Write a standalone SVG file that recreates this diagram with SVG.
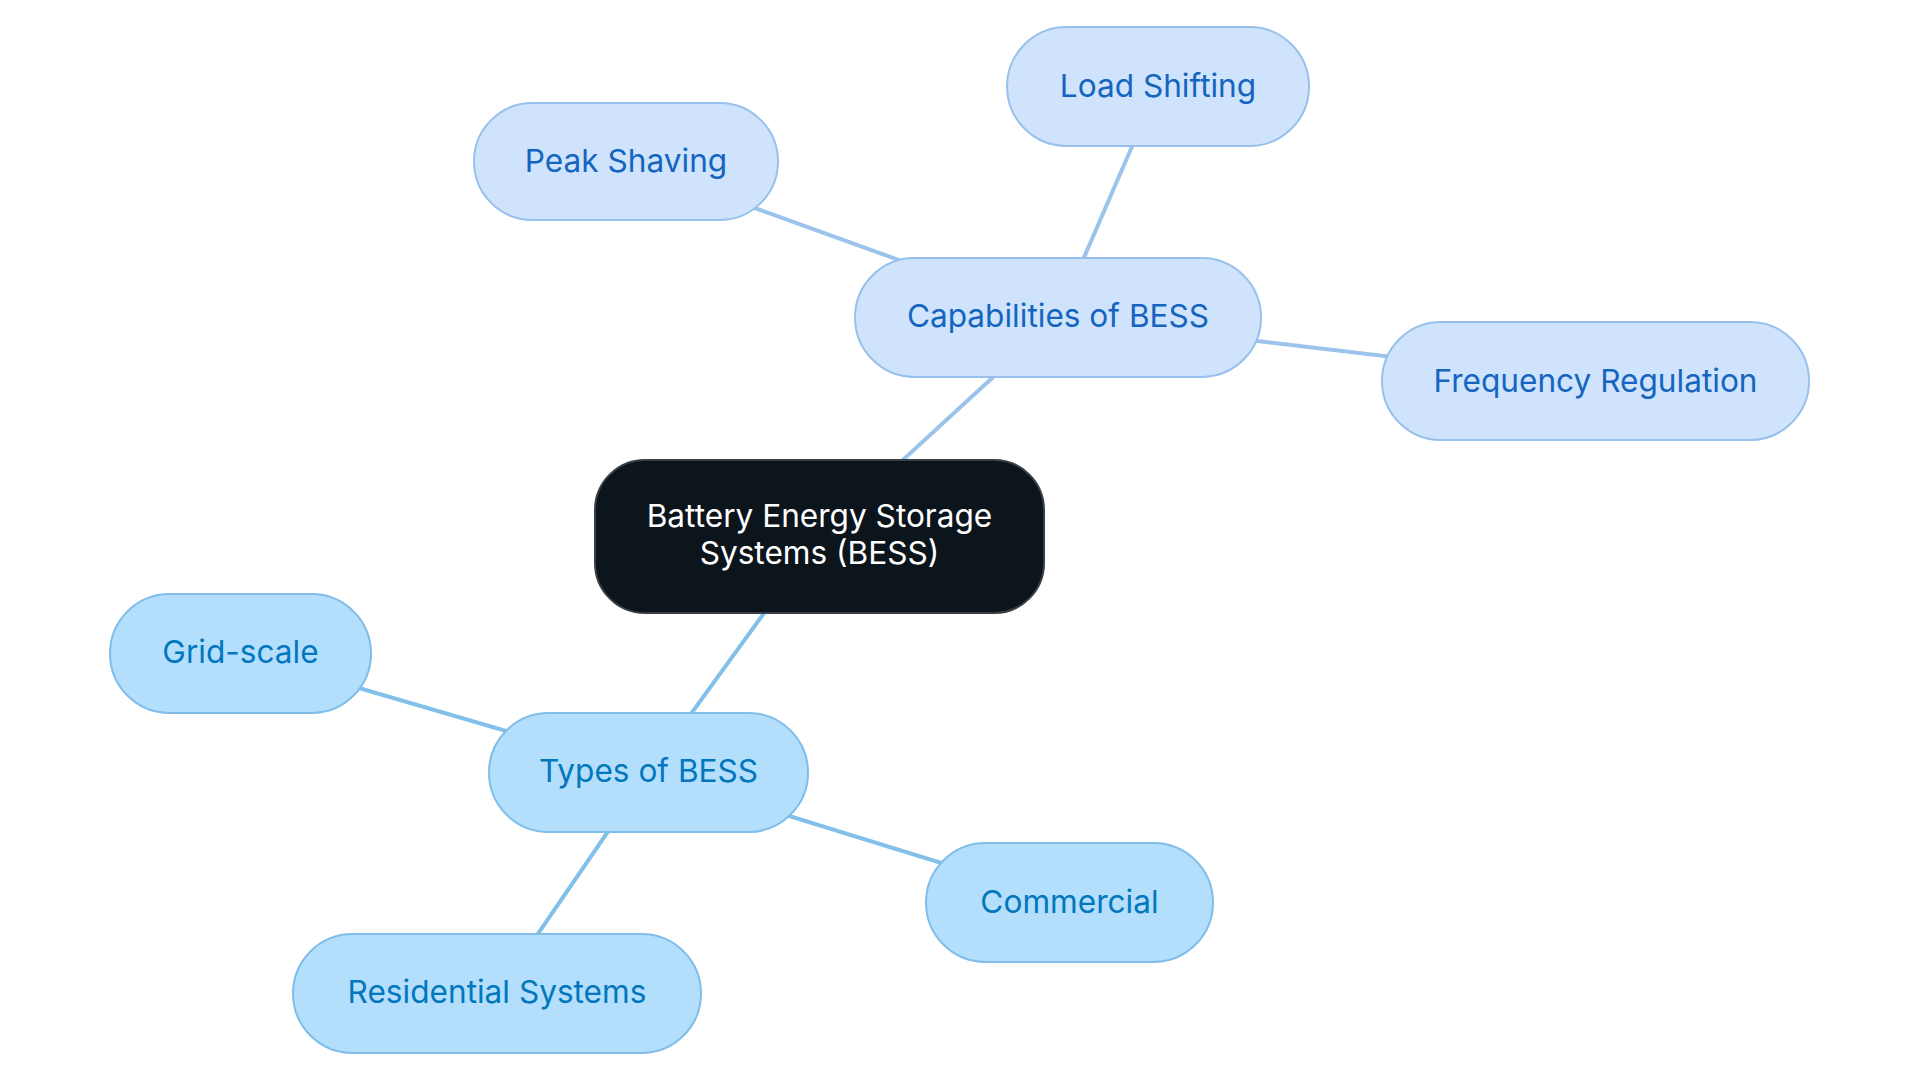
<svg xmlns="http://www.w3.org/2000/svg" width="1920" height="1083" viewBox="0 0 1920 1083">
<style>
text{font-family:Inter,"Open Sans","Liberation Sans",sans-serif;font-size:31.6px;text-anchor:middle}
.cap rect{fill:#cfe4fc;stroke:#97c1ec;stroke-width:2}
.cap text{fill:#1565c0}
.typ rect{fill:#b3dffc;stroke:#80bde9;stroke-width:2}
.typ text{fill:#0277bd}
.root rect{fill:#0c141c;stroke:#3a3f45;stroke-width:2}
.root text{fill:#ffffff}
.lc{stroke:#9cc3ec;stroke-width:4;fill:none}
.lt{stroke:#82bfea;stroke-width:4;fill:none}
</style>
<rect width="1920" height="1083" fill="#ffffff"/>
<g id="connectors">
<line class="lc" x1="819.5" y1="536.5" x2="1058" y2="317.5"/>
<line class="lc" x1="1058" y1="317.5" x2="626" y2="161.5"/>
<line class="lc" x1="1058" y1="317.5" x2="1158" y2="86.5"/>
<line class="lc" x1="1058" y1="317.5" x2="1595.5" y2="381"/>
<line class="lt" x1="819.5" y1="536.5" x2="648.5" y2="772.5"/>
<line class="lt" x1="648.5" y1="772.5" x2="240.5" y2="653.5"/>
<line class="lt" x1="648.5" y1="772.5" x2="1069.5" y2="902.5"/>
<line class="lt" x1="648.5" y1="772.5" x2="497" y2="993.5"/>
</g>
<g id="root" class="root">
<rect x="595" y="460" width="449" height="153" rx="50"/>
<text x="819.5" y="527">Battery Energy Storage</text>
<text x="819.5" y="564">Systems (BESS)</text>
</g>
<g id="capabilities" class="cap">
<rect x="855" y="258" width="406" height="119" rx="59.5"/>
<text x="1058" y="327">Capabilities of BESS</text>
</g>
<g id="peak-shaving" class="cap">
<rect x="474" y="103" width="304" height="117" rx="58.5"/>
<text x="626" y="172">Peak Shaving</text>
</g>
<g id="load-shifting" class="cap">
<rect x="1007" y="27" width="302" height="119" rx="59.5"/>
<text x="1158" y="97">Load Shifting</text>
</g>
<g id="frequency-regulation" class="cap">
<rect x="1382" y="322" width="427" height="118" rx="59"/>
<text x="1595.5" y="392">Frequency Regulation</text>
</g>
<g id="types" class="typ">
<rect x="489" y="713" width="319" height="119" rx="59.5"/>
<text x="648.5" y="782">Types of BESS</text>
</g>
<g id="grid-scale" class="typ">
<rect x="110" y="594" width="261" height="119" rx="59.5"/>
<text x="240.5" y="663">Grid-scale</text>
</g>
<g id="commercial" class="typ">
<rect x="926" y="843" width="287" height="119" rx="59.5"/>
<text x="1069.5" y="913">Commercial</text>
</g>
<g id="residential" class="typ">
<rect x="293" y="934" width="408" height="119" rx="59.5"/>
<text x="497" y="1003">Residential Systems</text>
</g>
</svg>
